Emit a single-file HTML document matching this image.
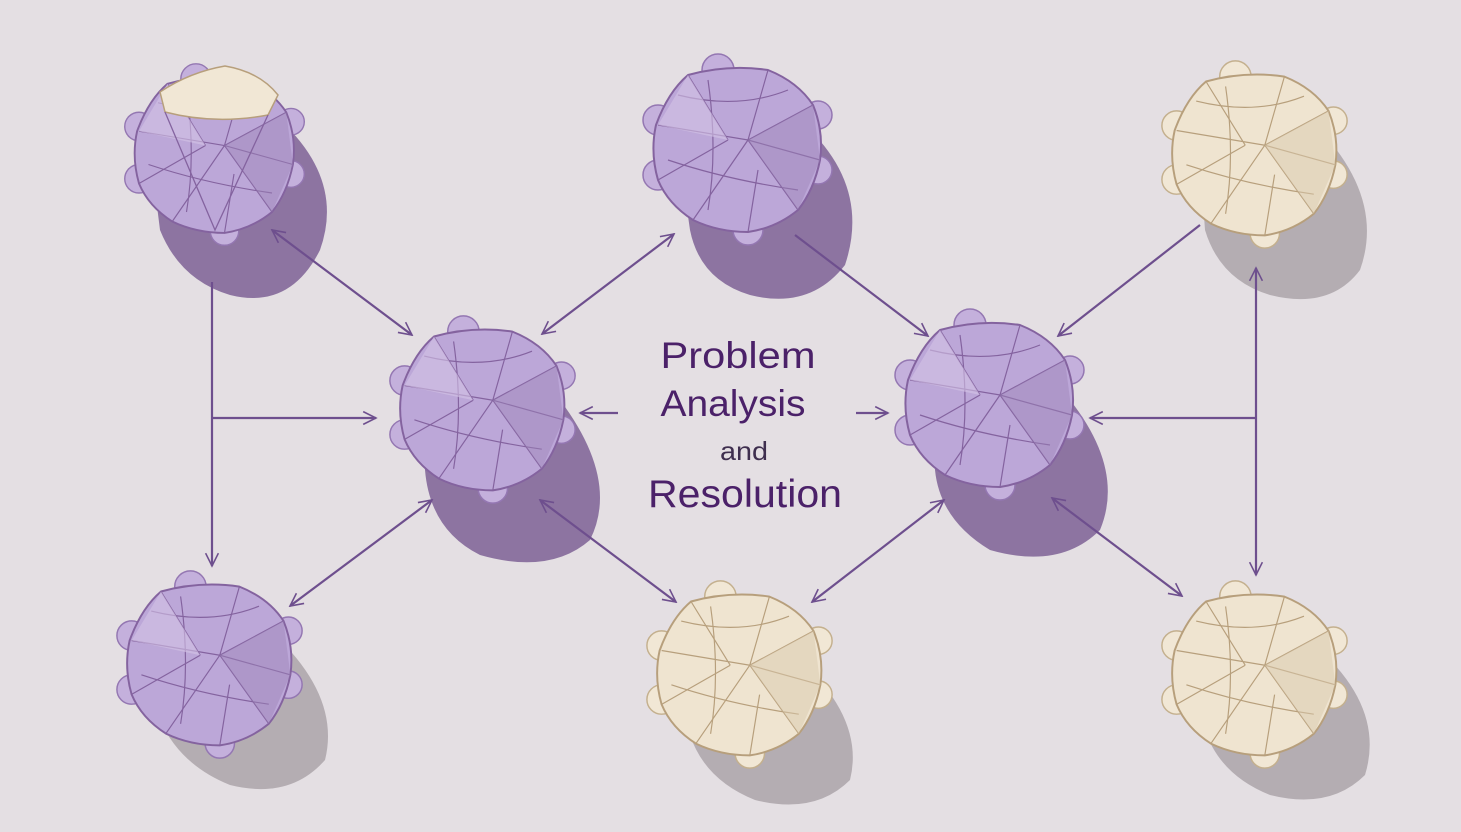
<!DOCTYPE html>
<html><head><meta charset="utf-8"><style>
html,body{margin:0;padding:0;background:#e4dfe3;}
svg{display:block}
</style></head><body>
<svg width="1461" height="832" viewBox="0 0 1461 832" xmlns="http://www.w3.org/2000/svg">
<defs>
<marker id="ah" viewBox="0 0 20 20" refX="18" refY="10" markerWidth="16" markerHeight="16" orient="auto-start-reverse" markerUnits="userSpaceOnUse">
<path d="M2,2 L18,10 L2,18" fill="none" stroke="#6e4f8e" stroke-width="2"/>
</marker>
<g id="pnode">
<g fill="#c4b0dc" stroke="#9477b2" stroke-width="1.5">
<circle cx="-80" cy="-30" r="15"/><circle cx="-80" cy="25" r="15"/>
<circle cx="80" cy="-35" r="14"/><circle cx="80" cy="20" r="14"/>
<circle cx="-20" cy="-80" r="16"/><circle cx="10" cy="80" r="15"/>
</g>
<path d="M-50,-75 Q-10,-86 30,-80 Q60,-68 75,-45 Q86,-18 82,10 Q76,40 60,60 Q38,78 10,82 Q-20,82 -45,70 Q-70,54 -80,30 Q-88,2 -82,-25 Q-70,-58 -50,-75 Z" fill="#bca7d8" stroke="#84639f" stroke-width="2"/>
<g fill="none" stroke="#84639f" stroke-width="1.2">
<path d="M-80,-25 L10,-10 L75,-45 M10,-10 L60,60 M10,-10 L-45,70 M-50,-75 L-10,-10 M30,-80 L10,-10 M-80,30 L-10,-10 M82,10 L10,-10 M10,82 L20,20"/>
<path d="M-60,-55 Q0,-40 50,-60 M-70,10 Q-10,30 60,40 M-30,-70 Q-20,0 -30,60"/>
</g>
<polygon points="10,-10 75,-45 82,10 60,60" fill="#9e86b8" opacity="0.45"/>
<polygon points="-80,-25 -10,-10 -50,-75" fill="#d3c3e6" opacity="0.6"/>
</g>
<g id="cnode">
<g fill="#f1e7d5" stroke="#c4b08e" stroke-width="1.5">
<circle cx="-80" cy="-30" r="15"/><circle cx="-80" cy="25" r="15"/>
<circle cx="80" cy="-35" r="14"/><circle cx="80" cy="20" r="14"/>
<circle cx="-20" cy="-80" r="16"/><circle cx="10" cy="80" r="15"/>
</g>
<path d="M-50,-75 Q-10,-86 30,-80 Q60,-68 75,-45 Q86,-18 82,10 Q76,40 60,60 Q38,78 10,82 Q-20,82 -45,70 Q-70,54 -80,30 Q-88,2 -82,-25 Q-70,-58 -50,-75 Z" fill="#efe4d0" stroke="#b79f7c" stroke-width="2"/>
<g fill="none" stroke="#b79f7c" stroke-width="1.2">
<path d="M-80,-25 L10,-10 L75,-45 M10,-10 L60,60 M10,-10 L-45,70 M-50,-75 L-10,-10 M30,-80 L10,-10 M-80,30 L-10,-10 M82,10 L10,-10 M10,82 L20,20"/>
<path d="M-60,-55 Q0,-40 50,-60 M-70,10 Q-10,30 60,40 M-30,-70 Q-20,0 -30,60"/>
</g>
<polygon points="10,-10 75,-45 82,10 60,60" fill="#d9c9ad" opacity="0.5"/>
</g>
</defs>

<!-- shadows -->
<g fill="#8d74a1">
<path d="M150,150 L280,120 Q345,180 320,250 Q290,310 230,295 Q180,280 160,230 Z"/>
<path d="M680,160 L810,130 Q870,190 845,265 Q810,310 750,295 Q700,280 690,230 Z"/>
<path d="M420,420 L560,400 Q620,480 590,540 Q550,575 480,555 Q430,530 425,470 Z"/>
<path d="M930,410 L1070,400 Q1125,470 1100,530 Q1060,570 990,550 Q940,520 935,470 Z"/>
</g>
<g fill="#b4adb2">
<path d="M1200,160 L1320,130 Q1385,200 1360,270 Q1330,310 1270,295 Q1220,280 1205,230 Z"/>
<path d="M150,670 L280,640 Q340,700 325,760 Q290,800 230,785 Q180,765 160,720 Z"/>
<path d="M680,690 L800,660 Q865,720 850,780 Q815,815 755,800 Q705,780 690,735 Z"/>
<path d="M1200,680 L1320,650 Q1385,710 1365,775 Q1330,810 1270,795 Q1220,775 1205,730 Z"/>
</g>

<!-- nodes -->
<use href="#pnode" transform="translate(215,155) scale(0.95)"/>
<path d="M160,92 Q190,72 225,66 Q260,72 278,95 L268,115 Q215,125 165,112 Z" fill="#f1e7d5" stroke="#b79f7c" stroke-width="1.5"/>
<path d="M165,112 L215,230 L268,115" fill="none" stroke="#84639f" stroke-width="1.3"/>
<use href="#pnode" transform="translate(738,150) scale(1.0)"/>
<use href="#cnode" transform="translate(1255,155) scale(0.98)"/>
<use href="#pnode" transform="translate(483,410) scale(0.98)"/>
<use href="#pnode" transform="translate(990,405) scale(1.0)"/>
<use href="#pnode" transform="translate(210,665) scale(0.98)"/>
<use href="#cnode" transform="translate(740,675) scale(0.98)"/>
<use href="#cnode" transform="translate(1255,675) scale(0.98)"/>

<!-- arrows -->
<g stroke="#6e4f8e" stroke-width="2.2" fill="none">
<line x1="272" y1="230" x2="412" y2="335" marker-start="url(#ah)" marker-end="url(#ah)"/>
<line x1="212" y1="282" x2="212" y2="566" marker-end="url(#ah)"/>
<line x1="212" y1="418" x2="376" y2="418" marker-end="url(#ah)"/>
<line x1="290" y1="606" x2="432" y2="500" marker-start="url(#ah)" marker-end="url(#ah)"/>
<line x1="542" y1="334" x2="674" y2="234" marker-start="url(#ah)" marker-end="url(#ah)"/>
<line x1="618" y1="413" x2="580" y2="413" marker-end="url(#ah)"/>
<line x1="540" y1="500" x2="676" y2="602" marker-start="url(#ah)" marker-end="url(#ah)"/>
<line x1="795" y1="235" x2="928" y2="336" marker-end="url(#ah)"/>
<line x1="856" y1="413" x2="888" y2="413" marker-end="url(#ah)"/>
<line x1="812" y1="602" x2="944" y2="500" marker-start="url(#ah)" marker-end="url(#ah)"/>
<line x1="1200" y1="225" x2="1058" y2="336" marker-end="url(#ah)"/>
<line x1="1256" y1="268" x2="1256" y2="575" marker-start="url(#ah)" marker-end="url(#ah)"/>
<line x1="1256" y1="418" x2="1090" y2="418" marker-end="url(#ah)"/>
<line x1="1052" y1="498" x2="1182" y2="596" marker-start="url(#ah)" marker-end="url(#ah)"/>
</g>

<!-- text -->
<g font-family="Liberation Sans, sans-serif" text-anchor="middle">
<text x="738" y="368" font-size="37" fill="#4b2169" textLength="155" lengthAdjust="spacingAndGlyphs">Problem</text>
<text x="733" y="416" font-size="37" fill="#4b2169" textLength="145" lengthAdjust="spacingAndGlyphs">Analysis</text>
<text x="744" y="460" font-size="26" fill="#3f2f4f" textLength="48" lengthAdjust="spacingAndGlyphs">and</text>
<text x="745" y="507" font-size="39" fill="#4b2169" textLength="194" lengthAdjust="spacingAndGlyphs">Resolution</text>
</g>
</svg>
</body></html>
